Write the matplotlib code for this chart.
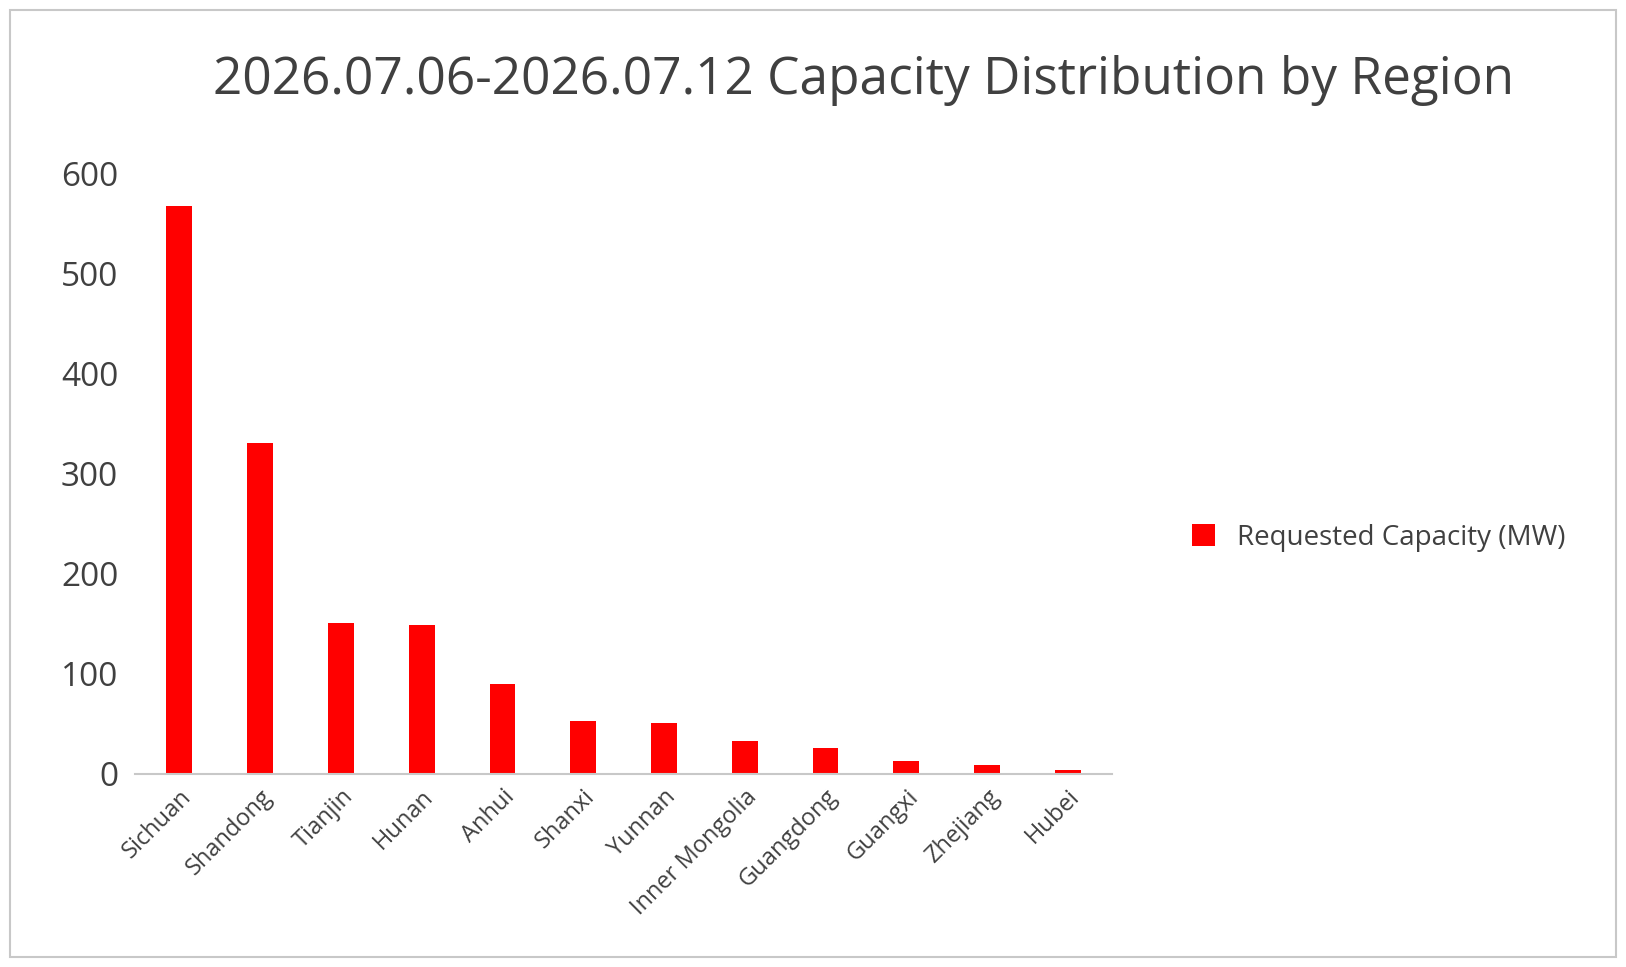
import matplotlib
matplotlib.use("Agg")
import matplotlib.pyplot as plt
from matplotlib.patches import Rectangle

regions = ["Sichuan", "Shandong", "Tianjin", "Hunan", "Anhui", "Shanxi", "Yunnan",
           "Inner Mongolia", "Guangdong", "Guangxi", "Zhejiang", "Hubei"]
capacity = [567, 330, 150, 148, 90, 53, 51, 33, 26, 13, 9, 4]
y_ticks = [0, 100, 200, 300, 400, 500, 600]

plt.rcParams['font.family'] = ['Open Sans', 'DejaVu Sans']

fig = plt.figure(figsize=(16.26, 9.67), dpi=100)
fig.patches.append(Rectangle((0.006, 0.01), 0.988, 0.98, transform=fig.transFigure,
                             fill=False, edgecolor='#c8c8c8', linewidth=1.5))
ax = fig.add_axes([0.083, 0.2, 0.601, 0.621])
ax.bar(range(len(regions)), capacity, width=0.32, color='#ff0000',
       label='Requested Capacity (MW)')
ax.set_xlim(-0.55, len(regions) - 0.45)
ax.set_ylim(0, 600)
ax.set_yticks(y_ticks)
ax.set_yticklabels([str(v) for v in y_ticks], fontsize=24, color='#404040')
ax.set_xticks(range(len(regions)))
ax.set_xticklabels(regions, rotation=45, ha='right', rotation_mode='anchor',
                   fontsize=17, color='#404040')
ax.tick_params(length=0, pad=12)
ax.tick_params(axis='x', pad=8)
for s in ['top', 'right', 'left']:
    ax.spines[s].set_visible(False)
ax.spines['bottom'].set_color('#c8c8c8')
ax.spines['bottom'].set_linewidth(1.5)

fig.text(0.531, 0.917, "2026.07.06-2026.07.12 Capacity Distribution by Region",
         ha='center', va='center', fontsize=37, color='#404040')
fig.legend(loc='center left', bbox_to_anchor=(0.718, 0.444), frameon=False,
           fontsize=20, labelcolor='#404040', handlelength=0.8, handleheight=0.8)

fig.savefig("out.png", dpi=100)
